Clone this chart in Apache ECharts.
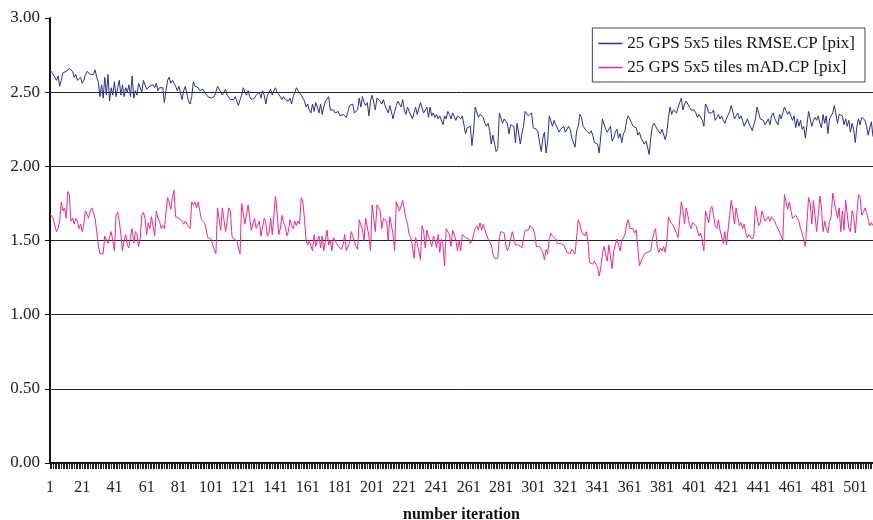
<!DOCTYPE html>
<html>
<head>
<meta charset="utf-8">
<script src="https://cdn.jsdelivr.net/npm/echarts@6/dist/echarts.min.js"></script>
<style>
  html, body { margin: 0; padding: 0; background: #fff; }
  #chart { width: 873px; height: 520px; }
</style>
</head>
<body>
<div id="chart"></div>
<script>
// 迭代序号 1..512
const iterations = Array.from({ length: 512 }, (_, i) => String(i + 1))

const yTicks = [0, 0.5, 1, 1.5, 2, 2.5, 3]

// 25 GPS 5x5 tiles RMSE.CP [pix]
const rmse = [
  2.65, 2.65, 2.62, 2.63, 2.58, 2.61, 2.54, 2.58, 2.63, 2.62, 2.64, 2.65, 2.66, 2.67, 2.64, 2.60, 2.62, 2.58, 2.57, 2.60,
  2.56, 2.58, 2.62, 2.64, 2.63, 2.62, 2.63, 2.62, 2.65, 2.60, 2.57, 2.47, 2.55, 2.46, 2.60, 2.48, 2.62, 2.44, 2.53, 2.48,
  2.57, 2.47, 2.53, 2.58, 2.48, 2.55, 2.47, 2.53, 2.50, 2.55, 2.47, 2.61, 2.46, 2.51, 2.48, 2.56, 2.53, 2.50, 2.58, 2.57,
  2.52, 2.53, 2.54, 2.55,
  2.55, 2.53, 2.56, 2.51, 2.53, 2.52, 2.53, 2.43, 2.51, 2.58, 2.60, 2.56, 2.58, 2.57, 2.54, 2.51, 2.54, 2.53, 2.45, 2.51,
  2.54, 2.55, 2.44, 2.42, 2.47, 2.57, 2.54, 2.55, 2.53, 2.51, 2.50, 2.52, 2.50, 2.51, 2.47, 2.48, 2.46, 2.45, 2.47, 2.50,
  2.54, 2.52, 2.53, 2.48, 2.50, 2.52, 2.48, 2.47, 2.45, 2.46, 2.45, 2.47, 2.44, 2.41, 2.45, 2.48, 2.53, 2.50, 2.48, 2.51,
  2.47, 2.45, 2.46,
  2.46, 2.48, 2.47, 2.50, 2.46, 2.51, 2.48, 2.42, 2.48, 2.50, 2.52, 2.48, 2.51, 2.53, 2.50, 2.51, 2.47, 2.45, 2.47, 2.45,
  2.46, 2.44, 2.46, 2.42, 2.47, 2.50, 2.53, 2.51, 2.52, 2.48, 2.47, 2.44, 2.40, 2.42, 2.38, 2.36, 2.42, 2.37, 2.43, 2.40,
  2.36, 2.42, 2.35, 2.40, 2.44, 2.45, 2.47, 2.38, 2.37, 2.38, 2.36, 2.35, 2.37, 2.34, 2.33, 2.35, 2.36, 2.33, 2.37, 2.41,
  2.40, 2.42, 2.36, 2.37,
  2.38, 2.46, 2.40, 2.47, 2.43, 2.41, 2.43, 2.34, 2.44, 2.48, 2.47, 2.38, 2.46, 2.47, 2.44, 2.42, 2.45, 2.41, 2.42, 2.36,
  2.41, 2.42, 2.32, 2.37, 2.41, 2.44, 2.45, 2.40, 2.45, 2.38, 2.35, 2.40, 2.37, 2.38, 2.32, 2.36, 2.40, 2.35, 2.34, 2.43,
  2.42, 2.36, 2.38, 2.40, 2.33, 2.40, 2.34, 2.36, 2.33, 2.35, 2.32, 2.34, 2.33, 2.28, 2.34, 2.32, 2.37, 2.35, 2.32, 2.36,
  2.35, 2.31, 2.34,
  2.34, 2.32, 2.34, 2.28, 2.22, 2.26, 2.25, 2.27, 2.14, 2.24, 2.40, 2.41, 2.33, 2.35, 2.36, 2.33, 2.29, 2.27, 2.29, 2.24,
  2.15, 2.21, 2.22, 2.10, 2.12, 2.36, 2.37, 2.29, 2.32, 2.31, 2.29, 2.22, 2.28, 2.28, 2.27, 2.16, 2.29, 2.28, 2.15, 2.22,
  2.27, 2.37, 2.36, 2.34, 2.35, 2.36, 2.26, 2.27, 2.25, 2.23, 2.16, 2.10, 2.19, 2.23, 2.09, 2.17, 2.34, 2.33, 2.27, 2.31,
  2.28, 2.26, 2.23, 2.25,
  2.25, 2.27, 2.23, 2.22, 2.27, 2.25, 2.19, 2.18, 2.13, 2.24, 2.27, 2.35, 2.33, 2.27, 2.28, 2.24, 2.23, 2.22, 2.24, 2.21,
  2.16, 2.16, 2.15, 2.09, 2.08, 2.32, 2.32, 2.25, 2.23, 2.24, 2.27, 2.17, 2.19, 2.23, 2.25, 2.19, 2.22, 2.16, 2.22, 2.24,
  2.31, 2.34, 2.32, 2.31, 2.27, 2.28, 2.26, 2.21, 2.23, 2.19, 2.18, 2.15, 2.17, 2.13, 2.08, 2.19, 2.27, 2.29, 2.27, 2.25,
  2.24, 2.22, 2.25, 2.25,
  2.18, 2.23, 2.33, 2.40, 2.35, 2.38, 2.37, 2.36, 2.40, 2.41, 2.46, 2.38, 2.42, 2.44, 2.42, 2.43, 2.38, 2.37, 2.38, 2.36,
  2.33, 2.35, 2.35, 2.31, 2.27, 2.42, 2.40, 2.36, 2.37, 2.36, 2.38, 2.31, 2.33, 2.35, 2.32, 2.34, 2.31, 2.29, 2.32, 2.33,
  2.37, 2.41, 2.40, 2.32, 2.34, 2.36, 2.32, 2.34, 2.31, 2.27, 2.28, 2.32, 2.29, 2.28, 2.24, 2.28, 2.32, 2.40, 2.36, 2.32,
  2.32, 2.31, 2.28, 2.29,
  2.32, 2.28, 2.34, 2.36, 2.32, 2.33, 2.28, 2.35, 2.32, 2.36, 2.40, 2.41, 2.35, 2.37, 2.36, 2.31, 2.34, 2.26, 2.32, 2.27,
  2.31, 2.25, 2.27, 2.19, 2.28, 2.37, 2.38, 2.27, 2.31, 2.33, 2.31, 2.34, 2.29, 2.26, 2.35, 2.29, 2.34, 2.22, 2.32, 2.34,
  2.36, 2.41, 2.42, 2.29, 2.35, 2.36, 2.34, 2.28, 2.32, 2.27, 2.31, 2.23, 2.29, 2.25, 2.16, 2.27, 2.32, 2.28, 2.33, 2.34,
  2.31, 2.27, 2.21, 2.26, 2.30, 2.20
]

// 25 GPS 5x5 tiles mAD.CP [pix]
const mad = [
  1.68, 1.67, 1.65, 1.60, 1.56, 1.58, 1.63, 1.76, 1.70, 1.72, 1.65, 1.83, 1.81, 1.63, 1.65, 1.61, 1.65, 1.63, 1.58, 1.61,
  1.56, 1.61, 1.70, 1.71, 1.65, 1.70, 1.72, 1.72, 1.65, 1.64, 1.47, 1.41, 1.41, 1.41, 1.53, 1.54, 1.48, 1.47, 1.56, 1.56,
  1.43, 1.67, 1.69, 1.63, 1.54, 1.43, 1.50, 1.54, 1.47, 1.45, 1.53, 1.58, 1.48, 1.56, 1.54, 1.46, 1.51, 1.67, 1.69, 1.65,
  1.54, 1.62, 1.58, 1.66,
  1.67, 1.53, 1.70, 1.65, 1.63, 1.58, 1.60, 1.58, 1.59, 1.79, 1.76, 1.71, 1.79, 1.84, 1.66, 1.66, 1.65, 1.65, 1.63, 1.61,
  1.63, 1.61, 1.60, 1.58, 1.76, 1.74, 1.76, 1.72, 1.76, 1.76, 1.64, 1.64, 1.62, 1.61, 1.52, 1.51, 1.51, 1.47, 1.44, 1.41,
  1.72, 1.72, 1.57, 1.72, 1.72, 1.56, 1.63, 1.72, 1.70, 1.53, 1.51, 1.52, 1.50, 1.45, 1.41, 1.75, 1.75, 1.61, 1.60, 1.74,
  1.75, 1.57, 1.58,
  1.65, 1.58, 1.57, 1.63, 1.53, 1.52, 1.65, 1.62, 1.53, 1.55, 1.65, 1.54, 1.53, 1.80, 1.69, 1.54, 1.58, 1.67, 1.62, 1.60,
  1.53, 1.56, 1.64, 1.60, 1.58, 1.63, 1.60, 1.63, 1.61, 1.79, 1.76, 1.65, 1.50, 1.47, 1.50, 1.51, 1.43, 1.54, 1.46, 1.50,
  1.53, 1.45, 1.53, 1.43, 1.50, 1.57, 1.47, 1.50, 1.43, 1.52, 1.52, 1.48, 1.46, 1.47, 1.44, 1.47, 1.54, 1.43, 1.46, 1.48,
  1.56, 1.53, 1.52, 1.46,
  1.44, 1.64, 1.65, 1.57, 1.50, 1.65, 1.66, 1.53, 1.43, 1.74, 1.73, 1.56, 1.74, 1.74, 1.70, 1.58, 1.65, 1.66, 1.63, 1.50,
  1.66, 1.66, 1.54, 1.43, 1.76, 1.76, 1.70, 1.70, 1.77, 1.77, 1.65, 1.61, 1.54, 1.52, 1.46, 1.38, 1.52, 1.48, 1.43, 1.37,
  1.60, 1.56, 1.45, 1.57, 1.53, 1.54, 1.46, 1.53, 1.51, 1.45, 1.54, 1.42, 1.51, 1.47, 1.33, 1.58, 1.57, 1.54, 1.46, 1.57,
  1.54, 1.50, 1.43,
  1.50, 1.43, 1.54, 1.53, 1.52, 1.53, 1.51, 1.48, 1.50, 1.51, 1.58, 1.60, 1.57, 1.62, 1.57, 1.61, 1.60, 1.54, 1.51, 1.50,
  1.47, 1.41, 1.38, 1.37, 1.38, 1.52, 1.56, 1.57, 1.55, 1.47, 1.43, 1.46, 1.45, 1.56, 1.57, 1.47, 1.46, 1.47, 1.46, 1.45,
  1.51, 1.57, 1.56, 1.57, 1.60, 1.61, 1.58, 1.54, 1.46, 1.45, 1.46, 1.44, 1.42, 1.37, 1.44, 1.41, 1.51, 1.55, 1.53, 1.53,
  1.51, 1.48, 1.48, 1.48,
  1.47, 1.47, 1.46, 1.42, 1.43, 1.41, 1.44, 1.43, 1.41, 1.40, 1.64, 1.61, 1.56, 1.56, 1.53, 1.56, 1.50, 1.35, 1.36, 1.34,
  1.36, 1.35, 1.32, 1.26, 1.32, 1.41, 1.46, 1.45, 1.36, 1.47, 1.47, 1.31, 1.43, 1.47, 1.51, 1.50, 1.43, 1.50, 1.51, 1.54,
  1.61, 1.64, 1.58, 1.57, 1.58, 1.55, 1.57, 1.56, 1.33, 1.36, 1.35, 1.41, 1.40, 1.42, 1.41, 1.43, 1.51, 1.55, 1.58, 1.46,
  1.42, 1.45, 1.43, 1.46,
  1.42, 1.50, 1.66, 1.63, 1.62, 1.60, 1.61, 1.55, 1.52, 1.52, 1.76, 1.70, 1.61, 1.72, 1.67, 1.61, 1.58, 1.62, 1.61, 1.60,
  1.57, 1.53, 1.55, 1.50, 1.43, 1.70, 1.69, 1.62, 1.71, 1.73, 1.67, 1.60, 1.58, 1.64, 1.57, 1.53, 1.48, 1.56, 1.47, 1.46,
  1.67, 1.77, 1.70, 1.61, 1.72, 1.71, 1.60, 1.62, 1.58, 1.61, 1.55, 1.52, 1.54, 1.53, 1.51, 1.53, 1.73, 1.72, 1.60, 1.62,
  1.70, 1.69, 1.63, 1.62,
  1.66, 1.63, 1.66, 1.65, 1.63, 1.60, 1.58, 1.57, 1.53, 1.50, 1.81, 1.80, 1.71, 1.76, 1.75, 1.65, 1.64, 1.67, 1.65, 1.63,
  1.58, 1.55, 1.54, 1.46, 1.46, 1.79, 1.75, 1.61, 1.77, 1.76, 1.56, 1.67, 1.80, 1.72, 1.56, 1.63, 1.58, 1.55, 1.63, 1.66,
  1.82, 1.81, 1.70, 1.65, 1.72, 1.56, 1.70, 1.57, 1.77, 1.76, 1.58, 1.56, 1.70, 1.66, 1.55, 1.56, 1.81, 1.79, 1.67, 1.69,
  1.72, 1.69, 1.64, 1.60, 1.62, 1.60
]

const seriesNames = ['25 GPS 5x5 tiles RMSE.CP [pix]', '25 GPS 5x5 tiles mAD.CP [pix]']

const serif = '"Liberation Serif", "Times New Roman", serif'

const chart = echarts.init(document.getElementById('chart'))

const option = {
  animation: false,
  textStyle: { fontFamily: serif },
  grid: { left: 50, right: 0, top: 18, bottom: 57, containLabel: false, outerBoundsMode: 'none' },
  legend: {
    orient: 'vertical',
    right: 8,
    top: 28,
    padding: [7, 10, 6, 6],
    itemGap: 7,
    itemWidth: 24,
    itemHeight: 1.5,
    icon: 'rect',
    borderColor: '#444',
    borderWidth: 1,
    backgroundColor: '#fff',
    textStyle: { fontFamily: serif, fontSize: 17, color: '#111', lineHeight: 17 },
    data: seriesNames
  },
  xAxis: {
    type: 'category',
    data: iterations,
    boundaryGap: false,
    name: 'number iteration',
    nameLocation: 'middle',
    nameGap: 44,
    nameTextStyle: { fontFamily: serif, fontSize: 16, fontWeight: 'bold', color: '#111' },
    axisLine: { lineStyle: { color: '#111', width: 2 } },
    axisTick: { interval: 0, length: 6, lineStyle: { color: '#222', width: 1 } },
    axisLabel: { interval: 19, margin: 17, fontFamily: serif, fontSize: 16, color: '#222' },
    splitLine: { show: false }
  },
  yAxis: {
    type: 'value',
    min: yTicks[0],
    max: yTicks[yTicks.length - 1],
    interval: 0.5,
    axisLine: { show: true, lineStyle: { color: '#111', width: 2 } },
    axisTick: { show: true, length: 5, lineStyle: { color: '#111' } },
    axisLabel: {
      margin: 10,
      fontFamily: serif,
      fontSize: 17,
      color: '#222',
      formatter: (v) => v.toFixed(2)
    },
    splitLine: { show: true, showMaxLine: false, lineStyle: { color: '#222', width: 1 } }
  },
  series: [
    {
      name: seriesNames[0],
      type: 'line',
      data: rmse,
      symbol: 'none',
      lineStyle: { color: '#2a3190', width: 1 },
      itemStyle: { color: '#2a3190' }
    },
    {
      name: seriesNames[1],
      type: 'line',
      data: mad,
      symbol: 'none',
      lineStyle: { color: '#ec2a92', width: 1 },
      itemStyle: { color: '#ec2a92' }
    }
  ]
}

chart.setOption(option)
</script>
</body>
</html>
